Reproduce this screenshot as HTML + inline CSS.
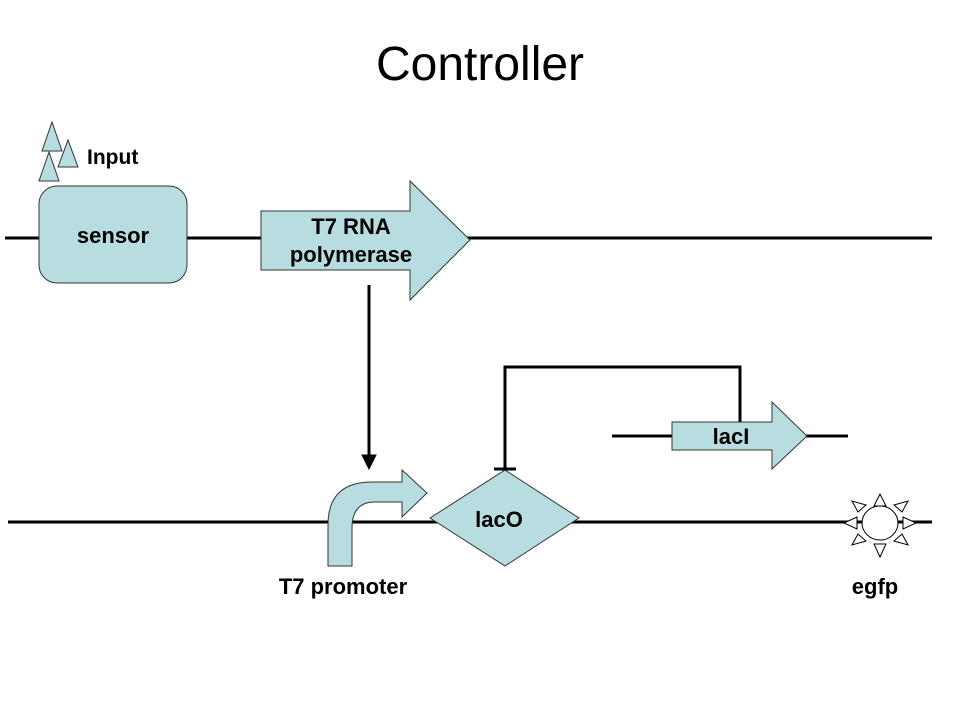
<!DOCTYPE html>
<html><head><meta charset="utf-8"><style>
html,body{margin:0;padding:0;background:#fff;}
svg{display:block;}
text{font-family:"Liberation Sans",Arial,sans-serif;font-weight:bold;fill:#000;}
</style></head><body>
<svg width="960" height="720" viewBox="0 0 960 720">
<rect width="960" height="720" fill="#fff"/>
<text x="480" y="80" text-anchor="middle" style="font-weight:normal;font-size:48px">Controller</text>

<line x1="5" y1="238" x2="932" y2="238" stroke="#000" stroke-width="3"/>
<g fill="#b7dde0" stroke="#333" stroke-width="1">
<polygon points="42,151 52,122 62,151"/>
<polygon points="58,167 68,140 78,167"/>
<polygon points="39,181 49,152 59,181"/>
</g>
<text x="87" y="164" style="font-size:21px">Input</text>
<rect x="39" y="186" width="148" height="97" rx="18" fill="#b7dde0" stroke="#333" stroke-width="1"/>
<text x="113" y="243" text-anchor="middle" style="font-size:22px">sensor</text>
<polygon points="261,211 410,211 410,181 470,240 410,300 410,270 261,270" fill="#b7dde0" stroke="#333" stroke-width="1"/>
<text x="351" y="234" text-anchor="middle" style="font-size:22px">T7 RNA</text>
<text x="351" y="262" text-anchor="middle" style="font-size:22px">polymerase</text>
<line x1="369" y1="285" x2="369" y2="458" stroke="#000" stroke-width="3"/>
<polygon points="362,455 369,469 376,455" fill="#000" stroke="#000" stroke-width="1"/>

<line x1="8" y1="522" x2="932" y2="522" stroke="#000" stroke-width="3"/>
<path d="M328,566 L328,525 Q328,482 372,482 L402,482 L402,470 L427,493 L402,517 L402,502 L375,502 Q352,502 352,528 L352,566 Z" fill="#b7dde0" stroke="#333" stroke-width="1"/>
<text x="343" y="594" text-anchor="middle" style="font-size:22px">T7 promoter</text>
<polygon points="430,518 505,470 579,518 505,566" fill="#b7dde0" stroke="#333" stroke-width="1"/>
<text x="499" y="527" text-anchor="middle" style="font-size:22px">lacO</text>
<polyline points="505,469 505,367 740,367 740,422" fill="none" stroke="#000" stroke-width="3"/>
<line x1="494" y1="469" x2="516" y2="469" stroke="#000" stroke-width="3"/>
<line x1="612" y1="436" x2="848" y2="436" stroke="#000" stroke-width="3"/>
<polygon points="672,422 772,422 772,402 807,436 772,469 772,450 672,450" fill="#b7dde0" stroke="#333" stroke-width="1"/>
<text x="731" y="444" text-anchor="middle" style="font-size:22px">lacI</text>
<g fill="#fff" stroke="#000" stroke-width="1">
<ellipse cx="880" cy="523" rx="18" ry="17"/>
<polygon points="874,506 880,494 886,506"/>
<polygon points="874,544 880,557 886,544"/>
<polygon points="857,517 844,523 857,529"/>
<polygon points="903,517 916,523 903,529"/>
<polygon points="858,512 852,501 866,505"/>
<polygon points="902,512 908,501 894,505"/>
<polygon points="858,534 852,545 866,541"/>
<polygon points="902,534 908,545 894,541"/>
</g>
<text x="875" y="594" text-anchor="middle" style="font-size:22px">egfp</text>
</svg>
</body></html>
